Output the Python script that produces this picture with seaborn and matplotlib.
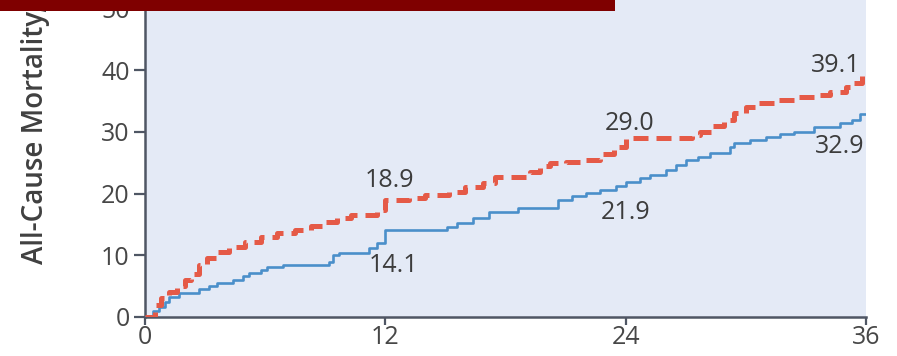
import matplotlib
matplotlib.use("Agg")
import matplotlib.pyplot as plt
from matplotlib.patches import Rectangle
import numpy as np
import pandas as pd
import seaborn as sns

# Kaplan-Meier style cumulative all-cause mortality (%) by month
red_months = [0, 0.5, 0.8, 1.2, 1.6, 2.0, 2.3, 2.7, 3.1, 3.6, 4.2, 5.0, 5.8, 6.6, 7.5,
              8.3, 9.0, 9.6, 10.3, 11.6, 12.0, 13.2, 14.0, 15.2, 16.0, 16.9, 17.5,
              19.2, 19.7, 20.2, 21.0, 21.9, 22.7, 23.4, 24.0, 27.3, 27.7, 28.3, 28.9,
              29.4, 30.0, 30.6, 31.4, 32.5, 33.5, 34.2, 35.0, 35.4, 35.8, 36.0]
red_rate = [0, 2.0, 3.0, 4.0, 5.0, 6.0, 7.0, 8.5, 9.5, 10.5, 11.3, 12.2, 13.0, 13.6, 14.1,
            14.7, 15.4, 16.0, 16.5, 17.4, 18.9, 19.3, 19.8, 20.3, 21.0, 21.7, 22.7,
            23.5, 24.5, 25.0, 25.2, 25.5, 26.5, 27.6, 29.0, 29.5, 30.0, 31.0, 32.0,
            33.0, 34.0, 34.7, 35.2, 35.6, 36.0, 36.5, 37.3, 38.0, 39.1, 39.1]

blue_months = [0, 0.4, 0.7, 1.0, 1.2, 1.7, 2.7, 3.2, 3.6, 4.4, 4.9, 5.2, 5.8, 6.1, 6.9,
               9.2, 9.4, 9.7, 11.2, 11.6, 12.0, 15.1, 15.6, 16.4, 17.2, 18.6, 20.6,
               21.3, 22.0, 22.7, 23.5, 24.0, 24.7, 25.2, 26.0, 26.5, 27.0, 27.6, 28.2,
               29.2, 29.4, 30.2, 31.0, 31.7, 32.4, 33.4, 34.7, 35.3, 35.7, 36.0]
blue_rate = [0, 1.0, 1.6, 2.5, 3.2, 3.9, 4.5, 5.0, 5.5, 6.0, 6.6, 7.1, 7.6, 8.1, 8.4,
             8.9, 10.0, 10.4, 11.2, 12.0, 14.1, 14.6, 15.2, 16.0, 17.0, 17.7, 19.0,
             19.6, 20.1, 20.6, 21.3, 21.9, 22.5, 23.0, 23.8, 24.6, 25.4, 26.0, 26.6,
             27.6, 28.2, 28.7, 29.2, 29.6, 30.0, 30.8, 31.4, 32.0, 32.9, 32.9]

# Values called out on the curves
label_months = [12, 24, 36]
red_labels = [18.9, 29.0, 39.1]
blue_labels = [14.1, 21.9, 32.9]

x_ticks = [0, 12, 24, 36]
y_ticks = [0, 10, 20, 30, 40, 50]
y_label = "All-Cause Mortality, %"

sns.set_theme(style="ticks")
plt.rcParams["font.family"] = ["Open Sans", "DejaVu Sans"]

RED = "#e55a47"
BLUE = "#4a8fca"
SPINE = "#4f5664"
TEXT = "#3c3c3c"

fig = plt.figure(figsize=(8.97, 3.56), dpi=100)
ax = fig.add_axes([145 / 897, 39 / 356, 721 / 897, 317 / 356])
ax.set_facecolor("#e4eaf6")

df = pd.concat([
    pd.DataFrame({"month": red_months, "rate": red_rate, "group": "red"}),
    pd.DataFrame({"month": blue_months, "rate": blue_rate, "group": "blue"}),
])

sns.lineplot(data=df[df.group == "blue"], x="month", y="rate", ax=ax,
             color=BLUE, linewidth=1.9, drawstyle="steps-post", zorder=3)
sns.lineplot(data=df[df.group == "red"], x="month", y="rate", ax=ax,
             color=RED, linewidth=3.6, drawstyle="steps-post", zorder=4,
             dashes=False)
ax.lines[-1].set_dashes((3.0, 1.6))
ax.lines[-1].set_solid_capstyle("butt")

ax.set_xlim(0, 36)
ax.set_ylim(0, 51.4)
ax.set_xticks(x_ticks)
ax.set_yticks(y_ticks)
ax.set_xticklabels([str(t) for t in x_ticks])
ax.set_yticklabels([str(t) for t in y_ticks])
ax.set_xlabel("")
ax.set_ylabel("")

for side in ("top", "right"):
    ax.spines[side].set_visible(False)
for side in ("left", "bottom"):
    ax.spines[side].set_color(SPINE)
    ax.spines[side].set_linewidth(1.8)
ax.tick_params(axis="both", colors=SPINE, width=1.6, labelsize=18,
               labelcolor="#474747")
ax.tick_params(axis="y", length=8, pad=3)
ax.tick_params(axis="x", length=6, pad=0)

# Value call-outs
red_offsets = [(0.2, 3.3), (0.2, 2.4), (-1.5, 1.7)]
blue_offsets = [(0.4, -5.7), (0.0, -4.9), (-1.3, -5.3)]
for m, v, (dx, dy) in zip(label_months, red_labels, red_offsets):
    ax.text(m + dx, v + dy, f"{v:.1f}", ha="center", va="center",
            fontsize=18, color=TEXT, zorder=5)
for m, v, (dx, dy) in zip(label_months, blue_labels, blue_offsets):
    ax.text(m + dx, v + dy, f"{v:.1f}", ha="center", va="center",
            fontsize=18, color=TEXT, zorder=5)

fig.text(36 / 897, (356 - 264) / 356, y_label, rotation=90, ha="center",
         va="bottom", fontsize=20, fontweight="semibold", color="#404040")

# Header band across the top
fig.add_artist(Rectangle((0, (356 - 11) / 356), 615 / 897, 11 / 356,
                         transform=fig.transFigure, facecolor="#7f0000",
                         edgecolor="none", zorder=10))

fig.savefig("out.png", dpi=100)
